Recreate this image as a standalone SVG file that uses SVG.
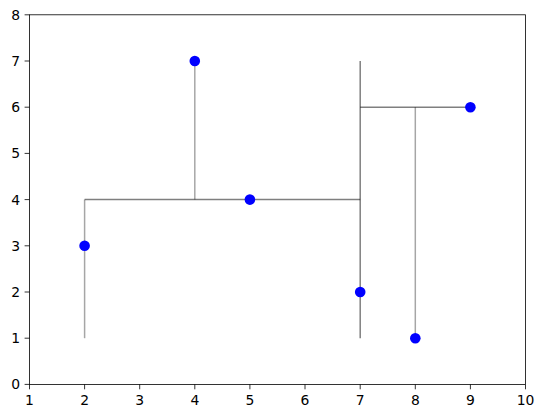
<svg xmlns="http://www.w3.org/2000/svg" width="543" height="418" viewBox="0 0 543 418">
<style>
.lt{stroke:#000;stroke-opacity:0.35;stroke-width:1.5;fill:none}
.dk{stroke:#000;stroke-opacity:0.5;stroke-width:1.5;fill:none}
.tick{stroke:#000;stroke-width:0.8}
.lab{font-family:"DejaVu Sans",sans-serif;font-size:13.9px;fill:#000}
.pt{fill:#0000ff}
</style>
<rect width="543" height="418" fill="#fff"/>
<g id="connectors">
<line class="lt" x1="84.6" y1="338.2" x2="84.6" y2="199.6"/>
<line class="lt" x1="194.8" y1="199.6" x2="194.8" y2="61"/>
<line class="lt" x1="415.3" y1="338.2" x2="415.3" y2="107.2"/>
<line class="dk" x1="84.6" y1="199.6" x2="360.2" y2="199.6"/>
<line class="dk" x1="360.2" y1="338.2" x2="360.2" y2="61"/>
<line class="dk" x1="360.2" y1="107.2" x2="470.4" y2="107.2"/>
</g>
<g id="axes">
<rect x="29.5" y="14.8" width="496" height="369.6" fill="none" stroke="#000" stroke-width="0.8"/>
<g class="tick">
<line x1="29.5" y1="384.4" x2="29.5" y2="389.3"/>
<line x1="84.6" y1="384.4" x2="84.6" y2="389.3"/>
<line x1="139.7" y1="384.4" x2="139.7" y2="389.3"/>
<line x1="194.8" y1="384.4" x2="194.8" y2="389.3"/>
<line x1="249.9" y1="384.4" x2="249.9" y2="389.3"/>
<line x1="305" y1="384.4" x2="305" y2="389.3"/>
<line x1="360.2" y1="384.4" x2="360.2" y2="389.3"/>
<line x1="415.3" y1="384.4" x2="415.3" y2="389.3"/>
<line x1="470.4" y1="384.4" x2="470.4" y2="389.3"/>
<line x1="525.5" y1="384.4" x2="525.5" y2="389.3"/>
<line x1="24.6" y1="384.4" x2="29.5" y2="384.4"/>
<line x1="24.6" y1="338.2" x2="29.5" y2="338.2"/>
<line x1="24.6" y1="292" x2="29.5" y2="292"/>
<line x1="24.6" y1="245.8" x2="29.5" y2="245.8"/>
<line x1="24.6" y1="199.6" x2="29.5" y2="199.6"/>
<line x1="24.6" y1="153.4" x2="29.5" y2="153.4"/>
<line x1="24.6" y1="107.2" x2="29.5" y2="107.2"/>
<line x1="24.6" y1="61" x2="29.5" y2="61"/>
<line x1="24.6" y1="14.8" x2="29.5" y2="14.8"/>
</g>
<g class="lab" text-anchor="middle">
<text x="29.5" y="405">1</text>
<text x="84.6" y="405">2</text>
<text x="139.7" y="405">3</text>
<text x="194.8" y="405">4</text>
<text x="249.9" y="405">5</text>
<text x="305" y="405">6</text>
<text x="360.2" y="405">7</text>
<text x="415.3" y="405">8</text>
<text x="470.4" y="405">9</text>
<text x="525.5" y="405">10</text>
</g>
<g class="lab" text-anchor="end">
<text x="20" y="389.4">0</text>
<text x="20" y="343.2">1</text>
<text x="20" y="297">2</text>
<text x="20" y="250.8">3</text>
<text x="20" y="204.6">4</text>
<text x="20" y="158.4">5</text>
<text x="20" y="112.2">6</text>
<text x="20" y="66">7</text>
<text x="20" y="19.8">8</text>
</g>
</g>
<g id="p1"><circle class="pt" cx="84.6" cy="245.8" r="5.3"/></g>
<g id="p2"><circle class="pt" cx="249.9" cy="199.6" r="5.3"/></g>
<g id="p3"><circle class="pt" cx="470.4" cy="107.2" r="5.3"/></g>
<g id="p4"><circle class="pt" cx="194.8" cy="61" r="5.3"/></g>
<g id="p5"><circle class="pt" cx="415.3" cy="338.2" r="5.3"/></g>
<g id="p6"><circle class="pt" cx="360.2" cy="292" r="5.3"/></g>
</svg>
